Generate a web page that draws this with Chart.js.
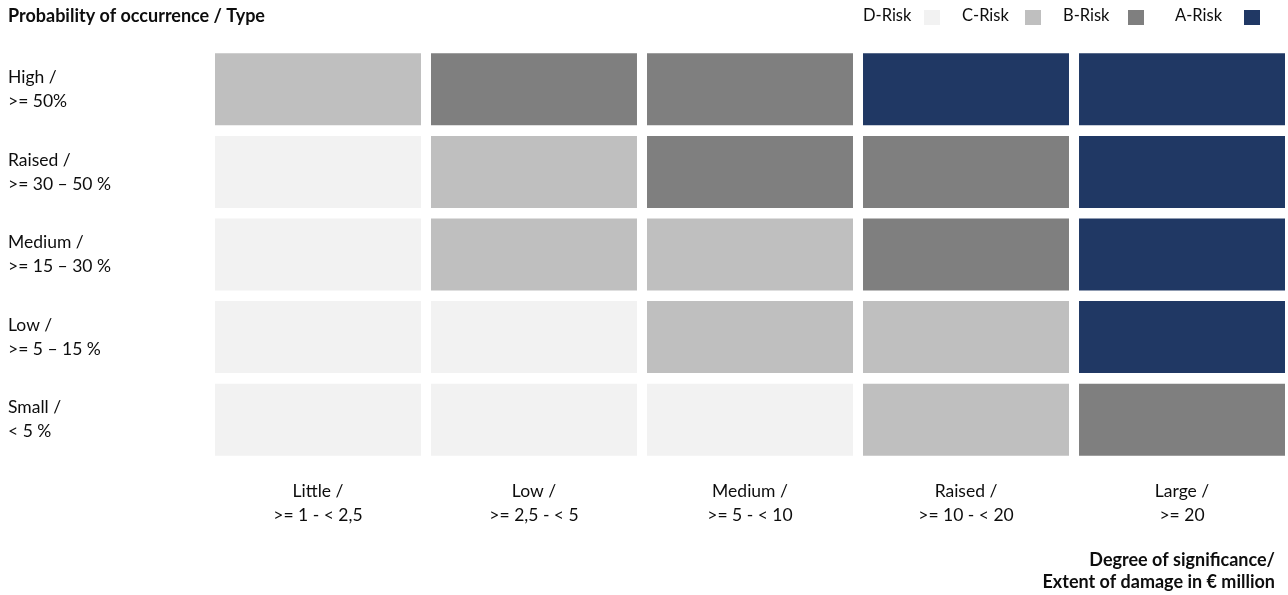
<!DOCTYPE html>
<html>
<head>
<meta charset="utf-8">
<script src="https://cdn.jsdelivr.net/npm/chart.js@4.4.1/dist/chart.umd.min.js"></script>
<style>
  html, body { margin: 0; padding: 0; background: #ffffff; overflow: hidden; }
  #wrap { width: 1288px; height: 595px; position: relative; }
</style>
</head>
<body>
<div id="wrap"><canvas id="riskMatrix"></canvas></div>
<script>
// Probability of occurrence (rows, top to bottom)
const probabilityLabels = [
  ['High /', '>= 50%'],
  ['Raised /', '>= 30 \u2013 50 %'],
  ['Medium /', '>= 15 \u2013 30 %'],
  ['Low /', '>= 5 \u2013 15 %'],
  ['Small /', '< 5 %']
];

// Degree of significance / extent of damage (columns, left to right)
const damageLabels = [
  ['Little /', '>= 1 - < 2,5'],
  ['Low /', '>= 2,5 - < 5'],
  ['Medium /', '>= 5 - < 10'],
  ['Raised /', '>= 10 - < 20'],
  ['Large /', '>= 20']
];

// Risk classes and their colours
const riskClasses = ['D-Risk', 'C-Risk', 'B-Risk', 'A-Risk'];
const riskColors = ['#f2f2f2', '#bfbfbf', '#7f7f7f', '#203864'];

// Risk class per cell, one array per probability row (columns: Little .. Large)
const rowHigh   = ['C-Risk', 'B-Risk', 'B-Risk', 'A-Risk', 'A-Risk'];
const rowRaised = ['D-Risk', 'C-Risk', 'B-Risk', 'B-Risk', 'A-Risk'];
const rowMedium = ['D-Risk', 'C-Risk', 'C-Risk', 'B-Risk', 'A-Risk'];
const rowLow    = ['D-Risk', 'D-Risk', 'C-Risk', 'C-Risk', 'A-Risk'];
const rowSmall  = ['D-Risk', 'D-Risk', 'D-Risk', 'C-Risk', 'B-Risk'];
const riskRows = [rowHigh, rowRaised, rowMedium, rowLow, rowSmall];

const titleText = 'Probability of occurrence / Type';
const axisCaption = ['Degree of significance/', 'Extent of damage in \u20ac million'];

const FONT = 'Lato, "Open Sans", sans-serif';
const TEXT_COLOR = '#0d0d0d';
const COL_GAP = 0.0232; // half of the white gap between columns, in column units

const colorOf = cls => riskColors[riskClasses.indexOf(cls)];

// One floating-bar dataset per damage column; each bar spans one cell of the row.
const datasets = damageLabels.map((_, c) => ({
  label: damageLabels[c].join(' '),
  data: riskRows.map(() => [c + COL_GAP, c + 1 - COL_GAP]),
  backgroundColor: riskRows.map(row => colorOf(row[c])),
  borderWidth: 0,
  borderSkipped: false,
  grouped: false,
  categoryPercentage: 1,
  barPercentage: 0.872
}));

// Header title, legend on the right and the axis caption bottom right
const decorations = {
  id: 'decorations',
  afterDraw(chart) {
    const ctx = chart.ctx;
    ctx.save();
    ctx.fillStyle = TEXT_COLOR;
    ctx.textBaseline = 'middle';
    ctx.font = 'bold 18px ' + FONT;
    ctx.textAlign = 'left';
    ctx.fillText(titleText, 8, 16);

    ctx.textAlign = 'right';
    ctx.fillText(axisCaption[0], 1275, 560);
    ctx.fillText(axisCaption[1], 1275, 582);

    // legend: text, then a square swatch to its right
    const textX = [863, 962, 1063, 1175];
    const boxX = [924, 1025, 1128, 1244];
    ctx.font = '16.5px ' + FONT;
    ctx.textAlign = 'left';
    riskClasses.forEach((cls, i) => {
      ctx.fillStyle = TEXT_COLOR;
      ctx.fillText(cls, textX[i], 16);
      ctx.fillStyle = riskColors[i];
      ctx.fillRect(boxX[i], 10, 16, 15);
    });
    ctx.restore();
  }
};

new Chart(document.getElementById('riskMatrix'), {
  type: 'bar',
  data: { labels: probabilityLabels, datasets },
  options: {
    indexAxis: 'y',
    responsive: true,
    maintainAspectRatio: false,
    animation: false,
    layout: { padding: { top: 48, right: 3, left: 8, bottom: 0 } },
    plugins: {
      legend: { display: false },
      tooltip: { enabled: false },
      title: { display: false }
    },
    scales: {
      y: {
        type: 'category',
        position: 'left',
        grid: { display: false, drawTicks: false },
        border: { display: false },
        ticks: {
          crossAlign: 'far',
          color: TEXT_COLOR,
          padding: 0,
          font: { family: FONT, size: 17.5, lineHeight: 24 / 17.5 }
        },
        afterFit(scale) { scale.width = 207; }
      },
      x: {
        type: 'linear',
        position: 'bottom',
        min: COL_GAP,
        max: damageLabels.length - COL_GAP,
        grid: { display: false, drawTicks: false },
        border: { display: false },
        afterBuildTicks(scale) {
          scale.ticks = damageLabels.map((_, c) => ({ value: c + 0.5 }));
        },
        ticks: {
          autoSkip: false,
          maxRotation: 0,
          color: TEXT_COLOR,
          padding: 18,
          font: { family: FONT, size: 17.5, lineHeight: 24 / 17.5 },
          callback: (value, index) => damageLabels[index]
        },
        afterFit(scale) { scale.height = 134; }
      }
    }
  },
  plugins: [decorations]
});
</script>
</body>
</html>
